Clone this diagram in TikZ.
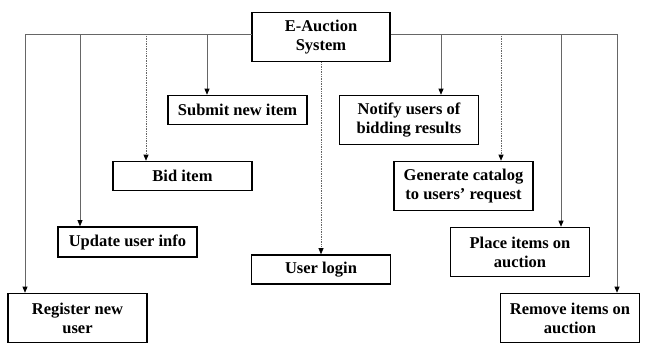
\documentclass[tikz,border=0pt]{standalone}
\usepackage{fontspec}
\setmainfont{Liberation Serif}
\usetikzlibrary{arrows.meta}
\tikzset{
  ea box/.style={
    draw=black,fill=white,line width=1.6pt,minimum width=139pt,
    inner sep=0pt,align=center,
    font=\bfseries\fontsize{16.5}{19}\selectfont
  },
  ea one/.style={ea box,minimum height=29pt},
  ea two/.style={ea box,minimum height=49pt},
  ea link/.style={black!60,line width=0.7pt,
    -{Triangle[length=6pt,width=5pt,black]}},
  ea dot/.style={ea link,densely dotted}
}

\begin{document}
\begin{tikzpicture}[x=1pt,y=-1pt]
  \useasboundingbox (0,0) rectangle (650,355);
  \node[ea two,minimum width=138pt] (sys) at (321,37) {E-Auction\\System};
  \node[ea one] (sub) at (237.5,110) {Submit new item};
  \node[ea one] (bid) at (182.5,176) {Bid item};
  \node[ea one,minimum height=30pt] (upd) at (127.5,242) {Update user info};
  \node[ea two] (reg) at (77.5,318) {Register new\\user};
  \node[ea one] (log) at (321,269.5) {User login};
  \node[ea two] (ntf) at (409,120) {Notify users of\\bidding results};
  \node[ea two] (gen) at (463.5,186) {Generate catalog\\to users’ request};
  \node[ea two] (plc) at (520,252) {Place items on\\auction};
  \node[ea two] (rem) at (570,318) {Remove items on\\auction};
  % left branch
  \draw[ea link] ([yshift=3pt]sys.west) -| ([xshift=-52.5pt]reg.north);
  \draw[ea link] ([yshift=3pt]sys.west) -| ([xshift=-47.5pt]upd.north);
  \draw[ea dot] ([yshift=3pt]sys.west) -| ([xshift=-36.5pt]bid.north);
  \draw[ea link] ([yshift=3pt]sys.west) -| ([xshift=-30.5pt]sub.north);
  % middle
  \draw[ea dot] (sys.south) -- (log.north);
  % right branch
  \draw[ea link] ([yshift=3pt]sys.east) -| ([xshift=32pt]ntf.north);
  \draw[ea dot] ([yshift=3pt]sys.east) -| ([xshift=37.5pt]gen.north);
  \draw[ea link] ([yshift=3pt]sys.east) -| ([xshift=41pt]plc.north);
  \draw[ea link] ([yshift=3pt]sys.east) -| ([xshift=47pt]rem.north);
\end{tikzpicture}
\end{document}
